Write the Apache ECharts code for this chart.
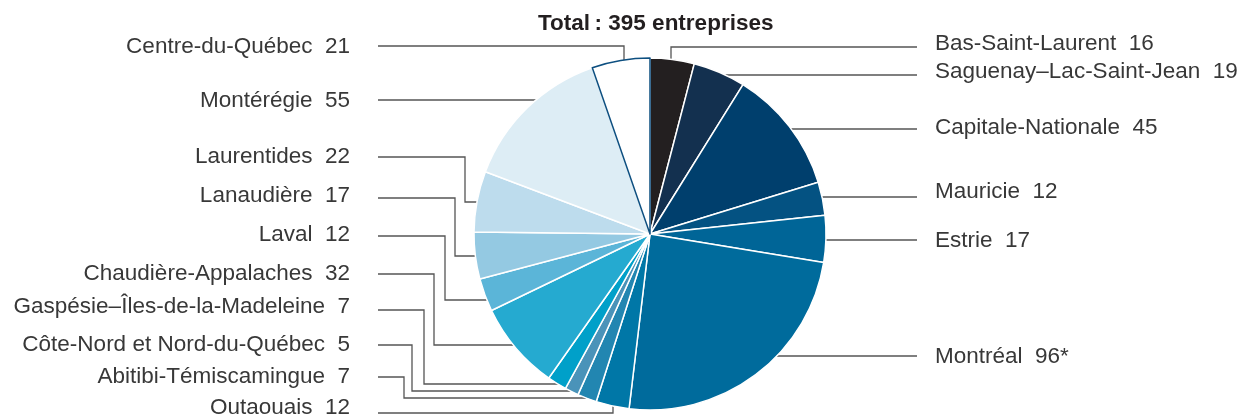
<!DOCTYPE html>
<html>
<head>
<meta charset="utf-8">
<title>Entreprises par région</title>
<script src="https://cdn.jsdelivr.net/npm/echarts@6/dist/echarts.min.js"></script>
<style>
html, body { margin: 0; padding: 0; background: #fff; }
#main { width: 1250px; height: 417px; }
</style>
</head>
<body>
<div id="main"></div>
<script>
// Régions, dans le sens horaire à partir de midi
var regions = ['Bas-Saint-Laurent', 'Saguenay\u2013Lac-Saint-Jean', 'Capitale-Nationale', 'Mauricie', 'Estrie',
	'Montréal', 'Outaouais', 'Abitibi-Témiscamingue', 'Côte-Nord et Nord-du-Québec',
	'Gaspésie\u2013Îles-de-la-Madeleine', 'Chaudière-Appalaches', 'Laval', 'Lanaudière',
	'Laurentides', 'Montérégie', 'Centre-du-Québec'];
var values = [16, 19, 45, 12, 17, 96, 12, 7, 5, 7, 32, 12, 17, 22, 55, 21];
var notes = ['', '', '', '', '', '*', '', '', '', '', '', '', '', '', '', ''];
var totalText = 'Total\u2009: 395 entreprises';

var colors = ['#231f20', '#13304f', '#003f6d', '#045282', '#006597', '#006b9c', '#0077a7', '#2286b1',
	'#4a93b9', '#00a0c9', '#25aad0', '#5bb5d8', '#94c9e2', '#bddced', '#ddedf5', '#ffffff'];

// géométrie du camembert
var cx = 650, cy = 234, r = 176;

// étiquettes : côté, y du texte, y de la ligne, x du coude, y d'entrée
var labelSide  = ['r', 'r', 'r', 'r', 'r', 'r', 'l', 'l', 'l', 'l', 'l', 'l', 'l', 'l', 'l', 'l'];
var labelTextY = [44, 72, 128, 192, 241, 357, 408, 377, 345, 307, 274, 235, 196, 157, 101, 47];
var labelLineY = [47, 75, 129, 197, 240, 356, 413, 377, 345, 310, 274, 236, 198, 157, 100, 46];
var labelBendX = [671, null, null, null, null, null, 613, 404, 412, 424, 434, 445, 455, 465, null, 624];
var labelEnterY = [null, null, null, null, null, null, null, 398, 391, 384, 345, 300, 256, 202, null, null];

// demi-corde du cercle à une distance d du centre
function halfChord(d) {
	return Math.sqrt(Math.max(r * r - d * d, 0));
}

// place chaque étiquette et trace sa ligne brisée
function placeLabel(params) {
	var i = params.dataIndex;
	var right = labelSide[i] == 'r';
	var sign = right ? 1 : -1;
	var y0 = labelLineY[i];
	var pts = [[right ? 917 : 378, y0]];
	var bx = labelBendX[i];
	if (bx == null) {
		pts.push([cx + sign * halfChord(y0 - cy), y0]);
	} else if (labelEnterY[i] == null) {
		var up = y0 < cy ? -1 : 1;
		pts.push([bx, y0]);
		pts.push([bx, cy + up * halfChord(bx - cx)]);
	} else {
		var ey = labelEnterY[i];
		pts.push([bx, y0]);
		pts.push([bx, ey]);
		pts.push([cx + sign * halfChord(ey - cy), ey]);
	}
	return {
		x : right ? 935 : 350,
		y : labelTextY[i],
		align : right ? 'left' : 'right',
		verticalAlign : 'middle',
		labelLinePoints : pts
	};
}

function drawChart() {
	var myChart = echarts.init(document.getElementById('main'), null, {renderer : 'canvas'});

	var data = [];
	for (var i = 0; i < regions.length; i++) {
		var item = {
			name : regions[i],
			value : values[i],
			itemStyle : {color : colors[i]}
		};
		// la dernière tranche est blanche avec un contour bleu
		if (i == regions.length - 1) {
			item.itemStyle.borderColor = '#0d4f80';
			item.itemStyle.borderWidth = 1.5;
		}
		data.push(item);
	}

	var option = {
		animation : false,
		title : {
			text : totalText,
			left : 533,
			top : 7,
			textStyle : {
				fontFamily : 'Liberation Sans',
				fontSize : 22.5,
				fontWeight : 'bold',
				color : '#231f20'
			}
		},
		series : [{
			type : 'pie',
			center : [cx, cy],
			radius : r,
			startAngle : 90,
			clockwise : true,
			avoidLabelOverlap : false,
			itemStyle : {
				borderColor : '#ffffff',
				borderWidth : 1.5
			},
			label : {
				show : true,
				fontFamily : 'Liberation Sans',
				fontSize : 22.5,
				color : '#383838',
				formatter : function(p) {
					return p.name + '  ' + p.value + notes[p.dataIndex];
				}
			},
			labelLine : {
				show : true,
				lineStyle : {color : '#555555', width : 1.3}
			},
			labelLayout : placeLabel,
			emphasis : {disabled : true},
			data : data
		}]
	};

	myChart.setOption(option);
}

window.onload = drawChart;
</script>
</body>
</html>
